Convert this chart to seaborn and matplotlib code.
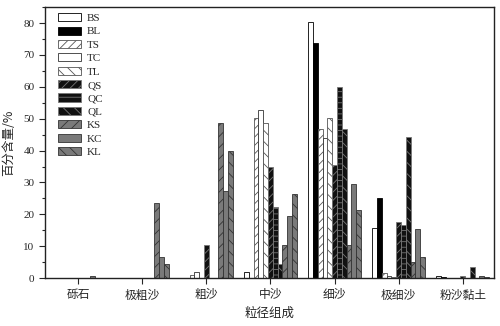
import matplotlib
matplotlib.use("Agg")
import matplotlib.pyplot as plt
import matplotlib.patches as mpatches
from matplotlib.ticker import MultipleLocator
import seaborn as sns
import pandas as pd

categories = ['砾石', '极粗沙', '粗沙', '中沙', '细沙', '极细沙', '粉沙黏土']
series = ['BS', 'BL', 'TS', 'TC', 'TL', 'QS', 'QC', 'QL', 'KS', 'KC', 'KL']
BS = [0, 0, 0, 2.0, 80.3, 15.8, 0.8]
BL = [0, 0, 0, 0, 73.8, 25.0, 0.4]
TS = [0, 0, 1.0, 50.2, 46.8, 1.5, 0]
TC = [0, 0, 2.0, 52.7, 43.8, 0.6, 0]
TL = [0, 0, 0, 48.6, 50.2, 0.3, 0]
QS = [0, 0, 10.4, 34.7, 35.6, 17.5, 0.5]
QC = [0, 0, 0, 22.4, 59.8, 16.7, 0]
QL = [0, 0, 0, 4.5, 46.8, 44.2, 3.4]
KS = [0.8, 23.7, 48.6, 10.3, 10.4, 5.0, 0]
KC = [0, 6.6, 27.3, 19.5, 29.5, 15.5, 0.6]
KL = [0, 4.3, 39.8, 26.5, 21.4, 6.5, 0.3]
values = [BS, BL, TS, TC, TL, QS, QC, QL, KS, KC, KL]

rows = []
for s, vals in zip(series, values):
    for c, v in zip(categories, vals):
        rows.append({'cat': c, 'series': s, 'val': v})
df = pd.DataFrame(rows)

styles = {
    'BS': dict(fc='white', ec='black', hatch=None),
    'BL': dict(fc='black', ec='black', hatch=None),
    'TS': dict(fc='white', ec='#555555', hatch='////'),
    'TC': dict(fc='white', ec='#333333', hatch=None),
    'TL': dict(fc='white', ec='#555555', hatch='\\\\\\'),
    'QS': dict(fc='#111111', ec='#777777', hatch='////'),
    'QC': dict(fc='#111111', ec='#777777', hatch='---'),
    'QL': dict(fc='#111111', ec='#777777', hatch='\\\\\\'),
    'KS': dict(fc='#7a7a7a', ec='#333333', hatch='///'),
    'KC': dict(fc='#7a7a7a', ec='#333333', hatch=None),
    'KL': dict(fc='#7a7a7a', ec='#333333', hatch='\\\\\\'),
}

sns.set_style('ticks')
plt.rcParams['font.family'] = ['Liberation Serif', 'Noto Sans CJK SC', 'DejaVu Sans']
plt.rcParams['hatch.linewidth'] = 0.6

fig = plt.figure(figsize=(5, 3.26), dpi=100)
ax = fig.add_axes([0.09, 0.147, 0.898, 0.831])

sns.barplot(data=df, x='cat', y='val', hue='series', order=categories,
            hue_order=series, width=0.825, dodge=True, ax=ax, legend=False,
            gap=0)

for s, cont in zip(series, ax.containers):
    st = styles[s]
    for p in cont.patches:
        p.set_facecolor(st['fc'])
        p.set_edgecolor(st['ec'])
        p.set_linewidth(0.6)
        if st['hatch']:
            p.set_hatch(st['hatch'])

ax.set_xlim(-0.52, 6.49)
ax.set_ylim(0, 85)
ax.yaxis.set_major_locator(MultipleLocator(10))
ax.yaxis.set_minor_locator(MultipleLocator(5))
ax.tick_params(axis='y', which='major', direction='out', length=4, width=0.8, labelsize=8)
ax.tick_params(axis='y', which='minor', direction='out', length=2, width=0.8)
ax.tick_params(axis='x', direction='out', length=4, width=0.8, labelsize=8.5)
for sp in ax.spines.values():
    sp.set_visible(True)
    sp.set_linewidth(1.0)
    sp.set_color('#222222')

for lab in ax.get_xticklabels():
    lab.set_family(['Noto Sans CJK SC', 'DejaVu Sans'])

ax.set_xlabel('粒径组成', fontsize=9, family=['Noto Sans CJK SC', 'DejaVu Sans'], labelpad=4)
ax.set_ylabel('百分含量/%', fontsize=9, family=['Noto Sans CJK SC', 'DejaVu Sans'], labelpad=6)

handles = []
for s in series:
    st = styles[s]
    handles.append(mpatches.Patch(facecolor=st['fc'], edgecolor=st['ec'],
                                  hatch=st['hatch'], linewidth=0.6, label=s))
ax.legend(handles=handles, loc='upper left', bbox_to_anchor=(0.028, 0.978),
          frameon=False, handlelength=2.1, handleheight=0.75,
          labelspacing=0.31, handletextpad=0.55, borderaxespad=0, borderpad=0,
          prop={'family': 'Liberation Serif', 'size': 8})

fig.savefig('out.png', dpi=100)
